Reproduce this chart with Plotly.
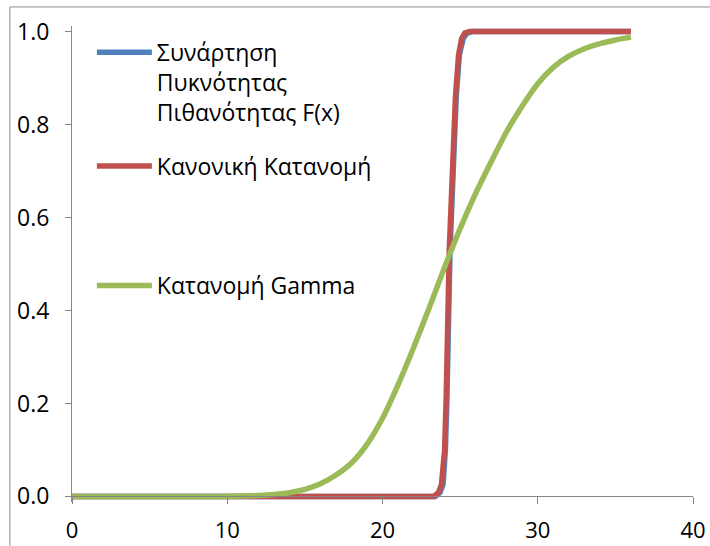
import plotly.graph_objects as go

# empirical distribution F(x) (blue), mostly hidden behind the normal curve
x_pdf = [0, 23.4, 23.7, 23.9, 24.05, 24.15, 24.35, 24.55, 24.75, 24.95, 25.2, 25.45, 25.8, 36]
y_pdf = [0, 0, 0.008, 0.026, 0.10, 0.21, 0.53, 0.72, 0.86, 0.95, 0.985, 0.997, 1, 1]

# normal distribution (red)
x_norm = [0, 23.3, 23.6, 23.8, 24.0, 24.1, 24.3, 24.5, 24.7, 24.9, 25.1, 25.3, 25.6, 36]
y_norm = [0, 0, 0.008, 0.026, 0.10, 0.21, 0.53, 0.72, 0.86, 0.95, 0.985, 0.997, 1, 1]

# gamma distribution (green)
x_gamma = list(range(0, 37))
y_gamma = [0, 0, 0, 0, 0, 0, 0, 0, 0, 0, 0,
           0.001, 0.002, 0.004, 0.008, 0.015, 0.027, 0.046, 0.072, 0.112, 0.168,
           0.24, 0.32, 0.405, 0.493, 0.576, 0.652, 0.72, 0.785, 0.84, 0.888,
           0.923, 0.947, 0.963, 0.974, 0.982, 0.988]

y_ticks = [0, 0.2, 0.4, 0.6, 0.8, 1.0]
x_ticks = [0, 10, 20, 30, 40]

font = "Open Sans"
fsize = 23
axis_grey = "#868686"

fig = go.Figure()
fig.add_trace(go.Scatter(
    x=x_pdf, y=y_pdf, mode='lines',
    name='Συνάρτηση<br>Πυκνότητας<br>Πιθανότητας F(x)',
    line=dict(color='#4F81BD', width=5.5),
    legend='legend'
))
fig.add_trace(go.Scatter(
    x=x_norm, y=y_norm, mode='lines',
    name='Κανονική Κατανομή',
    line=dict(color='#C0504D', width=5.5),
    legend='legend2'
))
fig.add_trace(go.Scatter(
    x=x_gamma, y=y_gamma, mode='lines',
    name='Κατανομή Gamma',
    line=dict(color='#9BBB59', width=5.5, shape='spline', smoothing=0.6),
    legend='legend3'
))

legend_style = dict(
    xanchor='left', yanchor='top', bgcolor='rgba(0,0,0,0)',
    font=dict(family=font, size=fsize, color='#000000'),
    itemwidth=55, valign='top', borderwidth=0
)

fig.update_layout(
    width=710, height=546,
    margin=dict(l=72, r=17, t=26, b=44),
    paper_bgcolor='white', plot_bgcolor='white',
    font=dict(family=font, size=fsize, color='#000000'),
    showlegend=True,
    legend=dict(x=0.032, y=0.99, **legend_style),
    legend2=dict(x=0.032, y=0.751, **legend_style),
    legend3=dict(x=0.032, y=0.50, **legend_style),
    xaxis=dict(
        range=[0, 40], tickvals=x_ticks, showgrid=False, zeroline=False,
        showline=True, linecolor=axis_grey, linewidth=1,
        ticks='outside', ticklen=7, tickcolor=axis_grey,
        tickfont=dict(size=22),
        anchor='free', position=0.012 / 1.024, ticklabelstandoff=7,
        automargin=False
    ),
    yaxis=dict(
        range=[-0.012, 1.012], tickvals=y_ticks, tickformat='.1f',
        showgrid=False, zeroline=False,
        showline=True, linecolor=axis_grey, linewidth=1,
        ticks='outside', ticklen=6, tickcolor=axis_grey, ticklabelstandoff=11,
        automargin=False
    ),
    shapes=[dict(
        type='rect', xref='paper', yref='paper',
        x0=-0.1, x1=1.2, y0=-0.3, y1=1.04,
        line=dict(color='#8c8c8c', width=1), fillcolor='rgba(0,0,0,0)', layer='below'
    )]
)

# drop the default 8px body margin so the figure fills the window
fig.write_html("out.html", config={'displayModeBar': False},
               post_script="document.body.style.margin='0';")
